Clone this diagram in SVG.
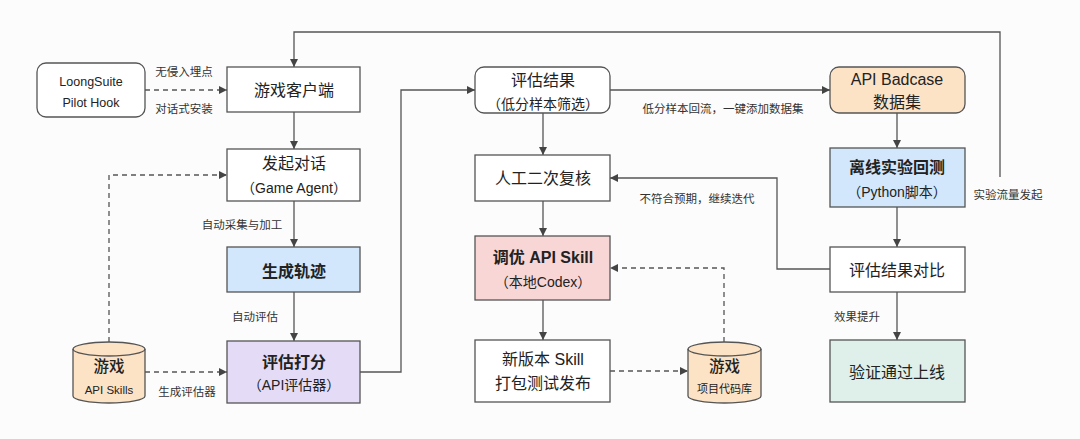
<svg xmlns="http://www.w3.org/2000/svg" width="1080" height="439" viewBox="0 0 1080 439">
<defs>
<marker id="ah" viewBox="0 0 10 10" refX="10" refY="5" markerWidth="8" markerHeight="8" markerUnits="userSpaceOnUse" orient="auto">
<path d="M0,0 L10,5 L0,10 Z" fill="#444"/>
</marker>
<style>
.box{stroke:#555;stroke-width:1.3;fill:#fff}
.ln{stroke:#555;stroke-width:1.3;fill:none}
.dash{stroke-dasharray:5,4}
.t{font-family:"Liberation Sans","Noto Sans CJK SC",sans-serif;fill:#222;text-anchor:middle;dominant-baseline:central}
.m{font-size:16px}
.b{font-weight:bold}
.s{font-size:14px}
.l{font-size:11.5px;fill:#333}
.blue{fill:#d2e7fb}
.lav{fill:#e4dcf6}
.pink{fill:#f8d6d6}
.peach{fill:#fde3c6}
.mint{fill:#dff0ea}
</style>
</defs>
<rect width="1080" height="439" fill="#fcfcfc"/>

<g id="connectors">
<path class="ln dash" d="M145,90 L227,90" marker-end="url(#ah)"/>
<path class="ln" d="M1000,177 L1000,32 L294,32 L294,67" marker-end="url(#ah)"/>
<path class="ln" d="M294,112 L294,149" marker-end="url(#ah)"/>
<path class="ln dash" d="M109,342 L109,175 L227,175" marker-end="url(#ah)"/>
<path class="ln" d="M294,201 L294,247" marker-end="url(#ah)"/>
<path class="ln" d="M294,292 L294,341" marker-end="url(#ah)"/>
<path class="ln dash" d="M145,372 L227,372" marker-end="url(#ah)"/>
<path class="ln" d="M360,372 L401,372 L401,90 L475,90" marker-end="url(#ah)"/>
<path class="ln" d="M610,90 L830,90" marker-end="url(#ah)"/>
<path class="ln" d="M543,113 L543,155" marker-end="url(#ah)"/>
<path class="ln" d="M543,201 L543,236" marker-end="url(#ah)"/>
<path class="ln" d="M543,300 L543,340" marker-end="url(#ah)"/>
<path class="ln dash" d="M610,371 L688,371" marker-end="url(#ah)"/>
<path class="ln dash" d="M724,342 L724,268 L610,268" marker-end="url(#ah)"/>
<path class="ln" d="M897,113 L897,148" marker-end="url(#ah)"/>
<path class="ln" d="M897,207 L897,247" marker-end="url(#ah)"/>
<path class="ln" d="M897,292 L897,340" marker-end="url(#ah)"/>
<path class="ln" d="M830,269 L777,269 L777,178 L610,178" marker-end="url(#ah)"/>
<g class="t l">
<text x="184" y="72">无侵入埋点</text>
<text x="184" y="109">对话式安装</text>
<text x="242" y="225">自动采集与加工</text>
<text x="255" y="317">自动评估</text>
<text x="187" y="392">生成评估器</text>
<text x="723" y="109">低分样本回流，一键添加数据集</text>
<text x="697" y="199">不符合预期，继续迭代</text>
<text x="1008" y="195">实验流量发起</text>
<text x="857" y="317">效果提升</text>
</g>
</g>

<g id="loongsuite">
<rect class="box" x="37" y="63" width="108" height="54" rx="9"/>
<text class="t" x="91" y="82" font-size="12.5">LoongSuite</text>
<text class="t" x="91" y="103" font-size="12.5">Pilot Hook</text>
</g>

<g id="client">
<rect class="box" x="227" y="67" width="133" height="45"/>
<text class="t m" x="294" y="90">游戏客户端</text>
</g>

<g id="dialog">
<rect class="box" x="227" y="149" width="133" height="52"/>
<text class="t m" x="294" y="163">发起对话</text>
<text class="t s" x="294" y="188">（Game Agent）</text>
</g>

<g id="trace">
<rect class="box blue" x="227" y="247" width="133" height="45"/>
<text class="t m b" x="294" y="271">生成轨迹</text>
</g>

<g id="score">
<rect class="box lav" x="227" y="341" width="133" height="62"/>
<text class="t m b" x="294" y="362">评估打分</text>
<text class="t s" x="294" y="385">（API评估器）</text>
</g>

<g id="skills-db">
<path class="box peach" d="M73,349 L73,396 A36,7 0 0 0 145,396 L145,349 A36,7 0 0 0 73,349 Z"/>
<path class="ln" d="M73,349 A36,7 0 0 0 145,349"/>
<text class="t" x="109" y="366" font-size="15.5" font-weight="500">游戏</text>
<text class="t" x="109" y="390" font-size="11.5">API Skills</text>
</g>

<g id="result">
<rect class="box" x="475" y="67" width="135" height="46" rx="9"/>
<text class="t m" x="543" y="80">评估结果</text>
<text class="t s" x="543" y="104">（低分样本筛选）</text>
</g>

<g id="review">
<rect class="box" x="475" y="155" width="135" height="46"/>
<text class="t m" x="543" y="178">人工二次复核</text>
</g>

<g id="tune">
<rect class="box pink" x="475" y="236" width="135" height="64"/>
<text class="t m b" x="543" y="257">调优 API Skill</text>
<text class="t s" x="543" y="282">（本地Codex）</text>
</g>

<g id="release">
<rect class="box" x="475" y="340" width="135" height="62"/>
<text class="t m" x="543" y="359">新版本 Skill</text>
<text class="t m" x="543" y="383">打包测试发布</text>
</g>

<g id="code-db">
<path class="box peach" d="M688,349 L688,396 A36.5,7 0 0 0 761,396 L761,349 A36.5,7 0 0 0 688,349 Z"/>
<path class="ln" d="M688,349 A36.5,7 0 0 0 761,349"/>
<text class="t" x="724.5" y="366" font-size="15.5" font-weight="500">游戏</text>
<text class="t" x="724.5" y="389" font-size="11">项目代码库</text>
</g>

<g id="badcase">
<rect class="box peach" x="830" y="67" width="135" height="46" rx="9"/>
<text class="t m" x="897" y="79">API Badcase</text>
<text class="t m" x="897" y="102">数据集</text>
</g>

<g id="offline">
<rect class="box blue" x="830" y="148" width="135" height="59"/>
<text class="t m b" x="897" y="167">离线实验回测</text>
<text class="t s" x="897" y="192">（Python脚本）</text>
</g>

<g id="compare">
<rect class="box" x="830" y="247" width="135" height="45"/>
<text class="t m" x="897" y="270">评估结果对比</text>
</g>

<g id="online">
<rect class="box mint" x="830" y="340" width="135" height="62"/>
<text class="t m" x="897" y="372">验证通过上线</text>
</g>
</svg>
